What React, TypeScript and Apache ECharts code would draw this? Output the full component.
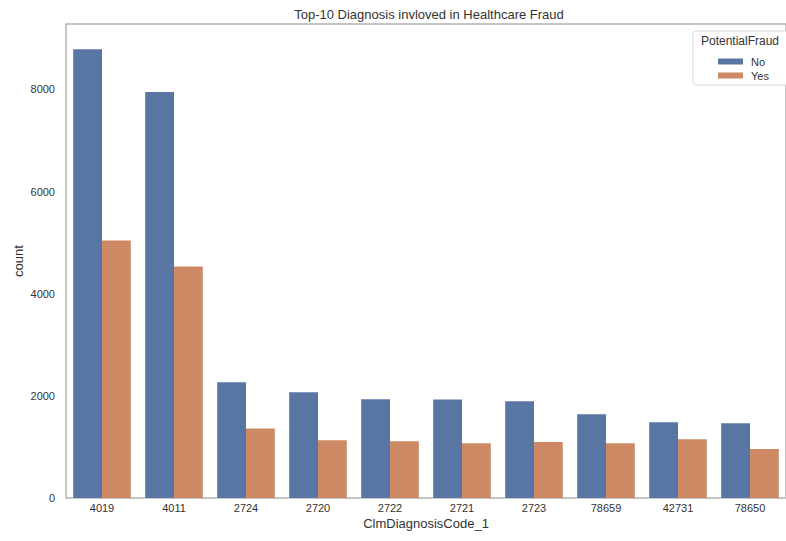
import React, { useEffect, useRef } from "react";
import * as echarts from "echarts";

const categories = ["4019", "4011", "2724", "2720", "2722", "2721", "2723", "78659", "42731", "78650"];
const noValues = [8785, 7950, 2266, 2070, 1934, 1928, 1895, 1641, 1485, 1465];
const yesValues = [5040, 4532, 1360, 1133, 1113, 1074, 1095, 1074, 1152, 957];
const seriesNames = ["No", "Yes"];
const yTicks = [0, 2000, 4000, 6000, 8000];

const FONT = "Liberation Sans, Arial, sans-serif";
const TXT = "#333333";

export default function App() {
  const ref = useRef<HTMLDivElement>(null);
  useEffect(() => {
    if (!ref.current) return;
    const chart = echarts.init(ref.current, undefined, { renderer: "svg" });
    chart.setOption({
      animation: false,
      backgroundColor: "#ffffff",
      textStyle: { fontFamily: FONT },
      grid: {
        left: 66,
        right: -8,
        top: 24,
        bottom: 43,
        show: true,
        borderColor: "#b3b3b3",
        borderWidth: 1.5,
        containLabel: false,
      },
      xAxis: {
        type: "category",
        data: categories,
        name: "ClmDiagnosisCode_1",
        nameLocation: "middle",
        nameGap: 19,
        nameMoveOverlap: false,
        nameTextStyle: { fontSize: 13, color: TXT, fontFamily: FONT },
        axisLine: { show: false },
        axisTick: { show: false },
        axisLabel: { fontSize: 11, color: TXT, margin: 4, fontFamily: FONT },
        splitLine: { show: false },
      },
      yAxis: {
        type: "value",
        min: 0,
        max: 9280,
        interval: 2000,
        name: "count",
        nameLocation: "middle",
        nameGap: 41,
        nameMoveOverlap: false,
        nameTextStyle: { fontSize: 13, color: TXT, fontFamily: FONT },
        axisLine: { show: false },
        axisTick: { show: false },
        splitLine: { show: false },
        axisLabel: {
          fontSize: 11,
          color: TXT,
          margin: 11,
          fontFamily: FONT,
          showMaxLabel: false,
          formatter: (v: number) => (yTicks.includes(v) ? String(v) : ""),
        },
      },
      legend: {
        data: seriesNames,
        orient: "vertical",
        left: 713,
        top: 51,
        itemWidth: 25,
        itemHeight: 6,
        itemGap: 3,
        icon: "rect",
        textStyle: { fontSize: 11, color: TXT, fontFamily: FONT, padding: [0, 0, 0, 3] },
      },
      graphic: [
        {
          type: "text",
          x: 429,
          y: 14,
          style: {
            text: "Top-10 Diagnosis invloved in Healthcare Fraud",
            fontSize: 13,
            fill: TXT,
            fontFamily: FONT,
            textAlign: "center",
            textVerticalAlign: "middle",
          },
        },
        {
          type: "rect",
          shape: { x: 693, y: 31, width: 100, height: 54, r: 3 },
          style: { fill: "#ffffff", stroke: "#d9d9d9", lineWidth: 1 },
          z: 1,
        },
        {
          type: "text",
          x: 740,
          y: 41,
          style: {
            text: "PotentialFraud",
            fontSize: 12,
            fill: TXT,
            fontFamily: FONT,
            textAlign: "center",
            textVerticalAlign: "middle",
          },
          z: 2,
        },
      ],
      series: [
        {
          name: seriesNames[0],
          type: "bar",
          data: noValues,
          itemStyle: { color: "#5975a4" },
          barGap: "0%",
          barCategoryGap: "20%",
        },
        {
          name: seriesNames[1],
          type: "bar",
          data: yesValues,
          itemStyle: { color: "#cc8963" },
          barGap: "0%",
          barCategoryGap: "20%",
        },
      ],
    });
    return () => chart.dispose();
  }, []);
  return <div ref={ref} style={{ width: 786, height: 541, position: "absolute", left: 0, top: 0 }} />;
}
